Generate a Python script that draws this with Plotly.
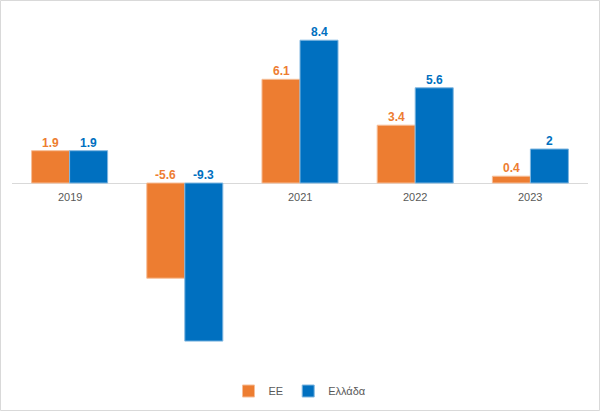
import plotly.graph_objects as go

years = ["2019", "2020", "2021", "2022", "2023"]
tick_labels = ["2019", "", "2021", "2022", "2023"]
ee = [1.9, -5.6, 6.1, 3.4, 0.4]
greece = [1.9, -9.3, 8.4, 5.6, 2]
ee_label = "ΕΕ"
gr_label = "Ελλάδα"

C_EE = "#ED7D31"
C_GR = "#0070C0"
FONT = "Liberation Sans, Arial"

L, R, T, B = 12, 12, 13, 58
W, H = 600, 411
pw, ph = W - L - R, H - T - B

fig = go.Figure()
fig.add_trace(go.Bar(x=years, y=ee, name=ee_label, marker_color=C_EE,
                     marker_line_color="#F6BE98", marker_line_width=1))
fig.add_trace(go.Bar(x=years, y=greece, name=gr_label, marker_color=C_GR,
                     marker_line_color="#80B7E0", marker_line_width=1))

ann = []
for vals, col, shift in [(ee, C_EE, -19), (greece, C_GR, 19)]:
    for i, v in enumerate(vals):
        ann.append(dict(x=i, y=max(v, 0), text=f"<b>{v:g}</b>", showarrow=False,
                        xshift=shift, yanchor="bottom", yshift=-1,
                        font=dict(family=FONT, size=12, color=col)))
for i, lab in enumerate(tick_labels):
    if lab:
        ann.append(dict(x=i, y=0, text=lab, showarrow=False, yanchor="top", yshift=-6,
                        font=dict(family=FONT, size=11, color="#595959")))

fig.update_layout(
    width=W, height=H,
    margin=dict(l=L, r=R, t=T, b=B, autoexpand=False),
    paper_bgcolor="white", plot_bgcolor="white",
    barmode="group", bargap=0.34,
    showlegend=True,
    legend=dict(orientation="h", x=0.5, xanchor="center", y=-(391 - (H - B)) / ph, yanchor="middle",
                bgcolor="rgba(0,0,0,0)", itemwidth=30, tracegroupgap=0,
                font=dict(family=FONT, size=11, color="#595959"),
                traceorder="normal"),
    annotations=ann,
    xaxis=dict(type="category", categoryarray=years, categoryorder="array", range=[-0.5, 4.5],
               showticklabels=False, showline=False, ticks="",
               showgrid=False, zeroline=False),
    yaxis=dict(range=[-10, 10], showticklabels=False, ticks="", showgrid=False,
               zeroline=True, zerolinecolor="#D9D9D9", zerolinewidth=1),
    shapes=[dict(type="rect", xref="paper", yref="paper",
                 x0=(0.5 - L) / pw, x1=(599.5 - L) / pw,
                 y0=(H - B - 410.5) / ph, y1=(H - B - 0.5) / ph,
                 line=dict(color="#D9D9D9", width=1), layer="below")],
)

fig.write_html("out.html", config={"displayModeBar": False},
               post_script="document.body.style.margin='0';")
